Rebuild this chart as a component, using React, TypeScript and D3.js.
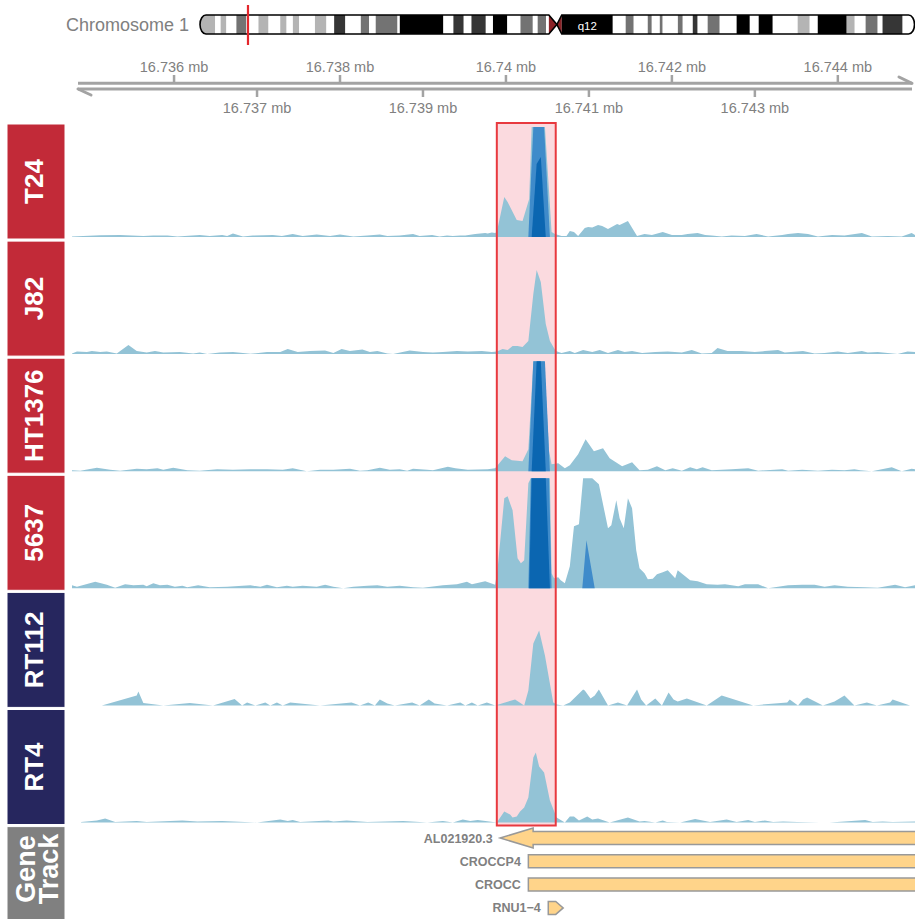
import React from 'react';
import * as d3 from 'd3';

const FONT = "'Liberation Sans', Arial, Helvetica, sans-serif";

// ---------- region / axis (kb on chr1) ----------
const REGION: [number, number] = [16734.77, 16744.93];
const HIGHLIGHT: [number, number] = [16739.89, 16740.6];
const TICKS_UPPER = [16736, 16738, 16740, 16742, 16744];
const TICKS_LOWER = [16737, 16739, 16741, 16743];

// ---------- ideogram (Mb on chr1) ----------
const CHROM_NAME = 'Chromosome 1';
const CHROM_LENGTH = 249.25;
const MARKER_MB = 16.74;
const CENTROMERE = [121.7, 124.5, 126.2];
const ARM_LABEL = { text: 'q12', mb: 135.1 };
const BANDS: [number, number, string][] = [
  [0, 5.3, 'gpos25'], [5.3, 7.2, 'gneg'], [7.2, 9.2, 'gpos25'], [9.2, 12.7, 'gneg'],
  [12.7, 16.2, 'gpos50'], [16.2, 20.4, 'gneg'], [20.4, 23.9, 'gpos25'], [23.9, 28, 'gneg'],
  [28, 30.2, 'gpos25'], [30.2, 32.4, 'gneg'], [32.4, 34.6, 'gpos25'], [34.6, 40.1, 'gneg'],
  [40.1, 44.1, 'gpos25'], [44.1, 46.8, 'gneg'], [46.8, 50.7, 'gpos75'], [50.7, 56.1, 'gneg'],
  [56.1, 59, 'gpos50'], [59, 61.3, 'gneg'], [61.3, 68.9, 'gpos50'], [68.9, 69.7, 'gneg'],
  [69.7, 84.9, 'gpos100'], [84.9, 88.4, 'gneg'], [88.4, 92, 'gpos75'], [92, 94.7, 'gneg'],
  [94.7, 99.7, 'gpos75'], [99.7, 102.2, 'gneg'], [102.2, 107.2, 'gpos100'], [107.2, 111.8, 'gneg'],
  [111.8, 116.1, 'gpos50'], [116.1, 117.8, 'gneg'], [117.8, 120.7, 'gpos50'], [120.7, 121.7, 'gneg'],
  [121.7, 124.5, 'acen'], [124.5, 126.2, 'acen'],
  [126.2, 144.0, 'gvar'], [144.0, 148.5, 'gneg'], [148.5, 151.3, 'gpos50'], [151.3, 156.2, 'gneg'],
  [156.2, 157.6, 'gpos50'], [157.6, 160.4, 'gneg'], [160.4, 161.4, 'gpos50'], [161.4, 166.7, 'gneg'],
  [166.7, 168.4, 'gpos50'], [168.4, 171.9, 'gneg'], [171.9, 173.6, 'gpos75'], [173.6, 177.1, 'gneg'],
  [177.1, 181.3, 'gpos50'], [181.3, 187.2, 'gneg'], [187.2, 191.8, 'gpos100'], [191.8, 194.9, 'gneg'],
  [194.9, 199.8, 'gpos100'], [199.8, 208.5, 'gneg'], [208.5, 212.7, 'gpos25'], [212.7, 215.5, 'gneg'],
  [215.5, 225.6, 'gpos100'], [225.6, 228.4, 'gpos25'], [228.4, 232.2, 'gneg'], [232.2, 236.4, 'gpos50'],
  [236.4, 238.1, 'gneg'], [238.1, 245.1, 'gpos75'], [245.1, 249.25, 'gneg'],
];

// ---------- coverage tracks: [position kb, signal] ----------
const TRACK_NAMES = ['T24', 'J82', 'HT1376', '5637', 'RT112', 'RT4'];
const TRACK_GROUPS = ['high', 'high', 'high', 'high', 'low', 'low'];
const Y_MAX = 110;

const T24_SIGNAL: [number, number][] = [[16734.77,0.5],[16735.11,1.7],[16735.35,2],[16735.63,1],[16735.75,1.5],[16735.92,1.5],[16736.04,0.5],[16736.31,2],[16736.43,1],[16736.58,2],[16736.64,1],[16736.71,3.5],[16736.83,0.5],[16736.95,1.5],[16737.19,2],[16737.30,1],[16737.43,3],[16737.55,1],[16737.72,2.5],[16737.88,1],[16738.00,2.5],[16738.16,0.5],[16738.33,1.5],[16738.48,2.5],[16738.57,1],[16738.72,1.5],[16738.88,3],[16738.96,1],[16739.11,2],[16739.20,0.5],[16739.29,1.5],[16739.36,1],[16739.45,1.5],[16739.51,1.5],[16739.63,3],[16739.75,4],[16739.78,3.5],[16739.83,4.5],[16739.87,4],[16739.89,5],[16739.98,40],[16740.02,35],[16740.13,17],[16740.20,16],[16740.28,38],[16740.31,110],[16740.47,110],[16740.52,45],[16740.55,5],[16740.59,3],[16740.67,1],[16740.73,1],[16740.77,6],[16740.82,5],[16740.87,1],[16740.95,9],[16740.99,10],[16741.04,9.5],[16741.11,12],[16741.16,11],[16741.23,8],[16741.34,13],[16741.37,12],[16741.47,16],[16741.58,1],[16741.67,3],[16741.76,2],[16741.89,5],[16742.00,2],[16742.12,2],[16742.19,3],[16742.31,4],[16742.40,2],[16742.48,1.5],[16742.60,0.5],[16742.72,1.5],[16742.88,1],[16743.02,3],[16743.16,0.5],[16743.33,2],[16743.40,3],[16743.52,4],[16743.64,3],[16743.76,0.5],[16743.93,2],[16744.08,1.5],[16744.29,4],[16744.41,0.5],[16744.60,1],[16744.77,0.5],[16744.89,4],[16744.93,2]];
const T24_REP2: [number, number][] = [[16740.27,0],[16740.33,110],[16740.46,110],[16740.53,0]];
const T24_REP3: [number, number][] = [[16740.31,0],[16740.37,73],[16740.42,80],[16740.48,0]];

const J82_SIGNAL: [number, number][] = [[16734.77,0.5],[16734.83,2.5],[16734.95,2],[16735.01,3],[16735.11,2],[16735.19,2.5],[16735.31,0.5],[16735.45,9],[16735.55,3],[16735.67,1.5],[16735.77,3],[16735.87,1.5],[16736.07,2],[16736.23,0.5],[16736.31,1.5],[16736.40,0],[16736.55,1.5],[16736.71,2],[16736.92,0.3],[16737.12,2],[16737.28,2],[16737.37,5],[16737.49,2],[16737.64,3],[16737.82,3.5],[16737.92,1],[16738.02,5],[16738.12,3],[16738.27,4.5],[16738.36,2],[16738.45,3],[16738.57,0.5],[16738.64,0],[16738.84,3.5],[16739.00,2],[16739.12,1.5],[16739.24,2],[16739.41,3],[16739.54,2.5],[16739.71,3],[16739.83,2],[16739.89,2.5],[16739.96,5],[16740.02,4],[16740.08,8],[16740.14,8],[16740.20,7],[16740.27,13],[16740.33,60],[16740.37,84],[16740.42,72],[16740.48,30],[16740.53,13],[16740.60,3],[16740.67,1],[16740.77,3],[16740.83,1],[16740.93,4],[16741.04,2],[16741.13,4],[16741.23,1],[16741.35,4],[16741.43,2],[16741.52,3],[16741.64,1],[16741.80,2],[16741.95,2.5],[16742.12,1.5],[16742.24,4],[16742.36,0.5],[16742.48,1],[16742.55,6],[16742.67,3],[16742.84,3],[16743.00,2],[16743.12,3],[16743.28,4],[16743.36,1.5],[16743.58,3],[16743.72,0.5],[16743.84,1],[16744.00,2.5],[16744.12,1],[16744.29,3],[16744.36,1.5],[16744.48,2],[16744.60,1],[16744.72,0],[16744.84,2.5],[16744.93,2]];

const HT1376_SIGNAL: [number, number][] = [[16734.77,1],[16734.87,0.5],[16735.07,3.5],[16735.23,1.5],[16735.35,0.5],[16735.55,2.5],[16735.67,2],[16735.80,3],[16735.87,1.5],[16735.99,3.5],[16736.16,1],[16736.31,0.5],[16736.52,2],[16736.71,1.5],[16736.92,2],[16737.12,2],[16737.31,1.5],[16737.43,3],[16737.60,0],[16737.76,1.5],[16737.92,1.5],[16738.12,2.5],[16738.24,0.5],[16738.33,1],[16738.48,3.5],[16738.60,1.5],[16738.72,2],[16738.81,0.5],[16738.88,2.5],[16739.05,1.5],[16739.12,1],[16739.30,4.5],[16739.39,3],[16739.54,1.5],[16739.78,2],[16739.87,3],[16739.99,15],[16740.07,11],[16740.20,10],[16740.27,22],[16740.33,110],[16740.46,110],[16740.52,20],[16740.55,7],[16740.63,8],[16740.71,3],[16740.77,6],[16740.87,17],[16740.96,32],[16741.06,20],[16741.17,23],[16741.25,13],[16741.40,5],[16741.52,9],[16741.61,1],[16741.71,1.5],[16741.82,5],[16741.92,1],[16742.01,3],[16742.12,0.5],[16742.22,4],[16742.30,2],[16742.37,4],[16742.48,1],[16742.72,2],[16742.92,3],[16743.04,0.5],[16743.33,2],[16743.40,0.5],[16743.57,1.5],[16743.76,0.5],[16743.93,1.5],[16744.08,1],[16744.20,2],[16744.27,1],[16744.41,0],[16744.53,2],[16744.65,4],[16744.77,0],[16744.89,2.5],[16744.93,2]];
const HT1376_REP2: [number, number][] = [[16740.27,0],[16740.33,110],[16740.47,110],[16740.53,0]];
const HT1376_REP3: [number, number][] = [[16740.31,0],[16740.37,110],[16740.42,110],[16740.48,0]];

const C5637_SIGNAL: [number, number][] = [[16734.77,3],[16734.83,1.5],[16735.05,6.5],[16735.19,3.5],[16735.29,0.5],[16735.41,4],[16735.51,3],[16735.63,3.5],[16735.67,2],[16735.75,5],[16735.83,3],[16735.92,3.5],[16736.01,1.5],[16736.10,2.5],[16736.16,1],[16736.29,3],[16736.43,1],[16736.64,1.5],[16736.92,3],[16737.04,1.5],[16737.12,3.5],[16737.24,1],[16737.36,2.5],[16737.43,1.5],[16737.55,2.5],[16737.72,1.5],[16737.82,3.5],[16737.92,1.5],[16738.04,0],[16738.16,1.5],[16738.33,2.5],[16738.45,3],[16738.57,1.5],[16738.72,2.5],[16738.88,1],[16739.00,0.5],[16739.24,3],[16739.41,4],[16739.53,6.5],[16739.59,4],[16739.75,7],[16739.87,3.5],[16739.90,20],[16739.98,90],[16740.02,92],[16740.08,78],[16740.14,30],[16740.18,25],[16740.22,28],[16740.27,105],[16740.30,110],[16740.53,110],[16740.55,15],[16740.58,10],[16740.63,11],[16740.66,8],[16740.71,5],[16740.77,22],[16740.82,62],[16740.88,64],[16740.93,110],[16741.04,110],[16741.12,104],[16741.23,60],[16741.27,63],[16741.33,88],[16741.37,70],[16741.42,60],[16741.47,90],[16741.52,80],[16741.57,38],[16741.61,20],[16741.67,15],[16741.71,9],[16741.77,9.5],[16741.82,14],[16741.89,16],[16741.95,18],[16742.04,10],[16742.07,18],[16742.13,14],[16742.22,8],[16742.31,7],[16742.42,4],[16742.55,3.5],[16742.64,4],[16742.80,2],[16742.88,4],[16743.04,4],[16743.16,0],[16743.24,1],[16743.40,3],[16743.57,3.5],[16743.72,3.5],[16743.84,1.5],[16743.96,3],[16744.12,1.5],[16744.33,1],[16744.48,0.5],[16744.69,3.5],[16744.81,1],[16744.93,3]];
const C5637_REP2: [number, number][] = [[16740.27,0],[16740.30,110],[16740.52,110],[16740.55,0],[16740.92,0],[16740.97,48],[16741.07,0]];
const C5637_REP3: [number, number][] = [[16740.28,0],[16740.31,110],[16740.48,110],[16740.53,0]];

const RT112_SIGNAL: [number, number][] = [[16735.13,0],[16735.55,10],[16735.57,14],[16735.63,2.5],[16735.87,0],[16736.19,2.5],[16736.47,0],[16736.73,6.5],[16736.82,0],[16736.88,3],[16736.98,0],[16737.10,3],[16737.16,0],[16737.24,3],[16737.31,0],[16737.40,3],[16737.76,0],[16738.14,3],[16738.24,0],[16738.34,3],[16738.42,0],[16738.48,6],[16738.57,2],[16738.66,0],[16738.87,3],[16738.96,0],[16739.07,6],[16739.14,2],[16739.29,0],[16739.45,3],[16739.51,0],[16739.59,3],[16739.66,0],[16739.77,3],[16739.87,0],[16740.11,6],[16740.22,0],[16740.27,15],[16740.33,62],[16740.40,75],[16740.47,50],[16740.57,3],[16740.61,1],[16740.69,0],[16740.77,3],[16740.93,16],[16740.95,15],[16741.02,7],[16741.07,10],[16741.12,16],[16741.23,0],[16741.35,3],[16741.46,0],[16741.58,16],[16741.63,6],[16741.69,0],[16741.80,7],[16741.88,0],[16741.96,13],[16742.02,6],[16742.07,4],[16742.18,7],[16742.42,0],[16742.60,10],[16742.98,0],[16743.39,3],[16743.42,6],[16743.52,0],[16743.58,6],[16743.63,8],[16743.82,0],[16743.96,4],[16744.08,10],[16744.20,0],[16744.35,3],[16744.47,0],[16744.63,3],[16744.66,6],[16744.87,0],[16744.93,0]];

const RT4_SIGNAL: [number, number][] = [[16734.88,0.5],[16735.07,2],[16735.17,4],[16735.29,0.5],[16735.55,1.5],[16735.67,0.5],[16736.10,2],[16736.28,1],[16736.58,1.5],[16737.00,0],[16737.28,3],[16737.37,1.5],[16737.43,2.5],[16737.52,0.5],[16737.86,2],[16737.92,1],[16738.08,2],[16738.33,0.5],[16738.76,1.5],[16738.96,0.5],[16739.05,0],[16739.24,1.5],[16739.36,0],[16739.48,3],[16739.57,1.5],[16739.66,2.5],[16739.89,0],[16739.98,11],[16740.05,8],[16740.08,5],[16740.13,6],[16740.17,11],[16740.22,15],[16740.27,25],[16740.33,65],[16740.36,70],[16740.40,56],[16740.46,50],[16740.53,22],[16740.61,5],[16740.71,0],[16740.77,6],[16740.82,6],[16740.88,2],[16740.98,6],[16741.04,3],[16741.11,4],[16741.25,0],[16741.47,5],[16741.61,1],[16741.67,1.5],[16741.80,0],[16741.89,2],[16741.94,0.5],[16742.10,0],[16742.28,3.5],[16742.46,0.5],[16742.66,3],[16742.78,0.5],[16742.92,2.5],[16743.00,0.5],[16743.12,2],[16743.22,0.5],[16743.34,1],[16743.51,0.5],[16743.78,0],[16743.90,0],[16744.08,1],[16744.33,2.5],[16744.42,0.5],[16744.54,1],[16744.66,0.5],[16744.93,1]];

const TRACK_SIGNALS = [T24_SIGNAL, J82_SIGNAL, HT1376_SIGNAL, C5637_SIGNAL, RT112_SIGNAL, RT4_SIGNAL];
const TRACK_REP2 = [T24_REP2, null, HT1376_REP2, C5637_REP2, null, null];
const TRACK_REP3 = [T24_REP3, null, HT1376_REP3, C5637_REP3, null, null];

// ---------- genes (kb) ----------
const GENE_NAMES = ['AL021920.3', 'CROCCP4', 'CROCC', 'RNU1\u22124'];
const GENE_STARTS = [16739.93, 16740.27, 16740.27, 16740.51];
const GENE_ENDS = [16775.0, 16790.0, 16790.0, 16740.69];
const GENE_STRANDS = ['-', '+', '+', '+'];

// ---------- styles ----------
const COL = {
  light: '#93c3d6',
  mid: '#3f8bca',
  dark: '#0b66b1',
  high: '#c22a38',
  low: '#26265e',
  gene: '#808080',
  axis: '#a3a3a3',
  text: '#808080',
  hlFill: '#fbdadf',
  hlStroke: '#e8393f',
  geneFill: '#ffd48a',
  geneStroke: '#999999',
};
const STAIN: Record<string, string> = {
  gneg: '#ffffff', gpos25: '#b4b4b4', gpos50: '#737373', gpos75: '#363636',
  gpos100: '#000000', gvar: '#000000', acen: '#8b2126',
};

const X0 = 72, X1 = 915;
const TRACK_TOP = 124, STRIDE = 117.1, PANEL_H = 115, BASE_OFF = 113;
const PANEL_X = 7, PANEL_W = 58;

export default function App() {
  const x = d3.scaleLinear().domain(REGION).range([X0, X1]);
  const cx = d3.scaleLinear().domain([0, CHROM_LENGTH]).range([200, 914.5]);
  const fmt = (kb: number) => `${+(kb / 1000).toFixed(3)} mb`;

  // ideogram geometry
  const yT = 15, yB = 34, yM = 24.5, r = 6;
  const xs = cx(0), xe = cx(CHROM_LENGTH);
  const cL = cx(CENTROMERE[0]), cM = cx(CENTROMERE[1]), cR = cx(CENTROMERE[2]);
  const pPath = `M${xs + r},${yT} L${cL},${yT} L${cM},${yM} L${cL},${yB} L${xs + r},${yB} A${r},${(yB - yT) / 2} 0 0 1 ${xs + r},${yT} Z`;
  const qPath = `M${cM},${yM} L${cR},${yT} L${xe - r},${yT} A${r},${(yB - yT) / 2} 0 0 1 ${xe - r},${yB} L${cR},${yB} Z`;

  const hx0 = x(HIGHLIGHT[0]), hx1 = x(HIGHLIGHT[1]);
  const geneTop = TRACK_TOP + 6 * STRIDE;

  const tracks = TRACK_NAMES.map((name, i) => {
    const top = TRACK_TOP + i * STRIDE;
    const base = top + BASE_OFF;
    const y = d3.scaleLinear().domain([0, Y_MAX]).range([base, base - 110]).clamp(true);
    const area = d3.area<[number, number]>().x(d => x(d[0])).y0(base).y1(d => y(d[1]));
    return { name, top, base, area, i };
  });

  return (
    <svg width={915} height={919} style={{ position: 'absolute', left: 0, top: 0, display: 'block', background: '#fff' }}
      fontFamily={FONT}>
      <defs>
        <clipPath id="chromClip">
          <path d={pPath} />
          <path d={qPath} />
        </clipPath>
        <clipPath id="dataClip">
          <rect x={X0} y={0} width={X1 - X0} height={919} />
        </clipPath>
      </defs>

      {/* Ideogram */}
      <text x={189} y={30.5} fontSize={18} fill={COL.text} textAnchor="end">{CHROM_NAME}</text>
      <g clipPath="url(#chromClip)">
        {BANDS.map((b, i) => (
          <rect key={i} x={cx(b[0])} y={yT} width={Math.max(0, cx(b[1]) - cx(b[0]))} height={yB - yT} fill={STAIN[b[2]]} />
        ))}
      </g>
      <path d={pPath} fill="none" stroke="#000" strokeWidth={1.6} />
      <path d={qPath} fill="none" stroke="#000" strokeWidth={1.6} />
      <text x={cx(ARM_LABEL.mb)} y={29.5} fontSize={11.5} fill="#fff" textAnchor="middle">{ARM_LABEL.text}</text>
      <line x1={cx(MARKER_MB)} x2={cx(MARKER_MB)} y1={5} y2={45} stroke="#e4262c" strokeWidth={2.2} />

      {/* Genome axis */}
      <line x1={78} x2={912} y1={83.3} y2={83.3} stroke={COL.axis} strokeWidth={3} />
      <line x1={78} x2={912} y1={89} y2={89} stroke={COL.axis} strokeWidth={3} />
      <line x1={899} y1={77} x2={912} y2={83.3} stroke={COL.axis} strokeWidth={3} strokeLinecap="round" />
      <line x1={78} y1={89} x2={91} y2={95} stroke={COL.axis} strokeWidth={3} strokeLinecap="round" />
      {TICKS_UPPER.map(t => (
        <g key={t}>
          <line x1={x(t)} x2={x(t)} y1={75} y2={83} stroke={COL.axis} strokeWidth={2.5} />
          <text x={x(t)} y={71.5} fontSize={14.5} fill={COL.text} textAnchor="middle">{fmt(t)}</text>
        </g>
      ))}
      {TICKS_LOWER.map(t => (
        <g key={t}>
          <line x1={x(t)} x2={x(t)} y1={89} y2={97} stroke={COL.axis} strokeWidth={2.5} />
          <text x={x(t)} y={112.5} fontSize={14.5} fill={COL.text} textAnchor="middle">{fmt(t)}</text>
        </g>
      ))}

      {/* highlight fill */}
      <rect x={hx0} y={123} width={hx1 - hx0} height={825.5 - 123} fill={COL.hlFill} />

      {/* data tracks */}
      {tracks.map(t => (
        <g key={t.name}>
          <rect x={PANEL_X} y={t.top} width={PANEL_W} height={PANEL_H}
            fill={TRACK_GROUPS[t.i] === 'high' ? COL.high : COL.low} stroke="#fff" strokeWidth={1} />
          <text transform={`translate(43,${t.top + PANEL_H / 2}) rotate(-90)`} fontSize={26} fontWeight="bold"
            fill="#fff" textAnchor="middle">{t.name}</text>
          <g clipPath="url(#dataClip)">
            <path d={t.area(TRACK_SIGNALS[t.i]) || ''} fill={COL.light} />
            {TRACK_REP2[t.i] && <path d={t.area(TRACK_REP2[t.i] as [number, number][]) || ''} fill={COL.mid} />}
            {TRACK_REP3[t.i] && <path d={t.area(TRACK_REP3[t.i] as [number, number][]) || ''} fill={COL.dark} />}
          </g>
        </g>
      ))}

      {/* highlight border */}
      <rect x={hx0} y={123} width={hx1 - hx0} height={825.5 - 123} fill="none" stroke={COL.hlStroke} strokeWidth={2} />

      {/* gene track */}
      <rect x={PANEL_X} y={geneTop} width={PANEL_W} height={930 - geneTop} fill={COL.gene} stroke="#fff" strokeWidth={1} />
      <text transform={`translate(35,869) rotate(-90)`} fontSize={27} fontWeight="bold" fill="#fff" textAnchor="middle">Gene</text>
      <text transform={`translate(58,869) rotate(-90)`} fontSize={27} fontWeight="bold" fill="#fff" textAnchor="middle">Track</text>
      <g>
        {GENE_NAMES.map((name, i) => {
          const cy = geneTop + 11.4 + i * 23.3;
          const gx0 = x(GENE_STARTS[i]);
          const gx1Raw = x(GENE_ENDS[i]);
          const visibleEnd = gx1Raw <= X1;
          const gx1 = Math.min(gx1Raw, X1 + 10);
          const bh = 6.5;
          const hl = Math.min(33, (gx1 - gx0) / 2);
          const hh = hl >= 20 ? 10 : bh;
          let pts: [number, number][];
          if (GENE_STRANDS[i] === '-') {
            pts = [[gx0, cy], [gx0 + hl, cy - hh], [gx0 + hl, cy - bh], [gx1, cy - bh], [gx1, cy + bh], [gx0 + hl, cy + bh], [gx0 + hl, cy + hh]];
          } else if (visibleEnd) {
            pts = [[gx0, cy - bh], [gx1 - hl, cy - bh], [gx1, cy], [gx1 - hl, cy + bh], [gx0, cy + bh]];
          } else {
            pts = [[gx0, cy - bh], [gx1, cy - bh], [gx1, cy + bh], [gx0, cy + bh]];
          }
          return (
            <g key={name}>
              <polygon points={pts.map(p => p.join(',')).join(' ')} fill={COL.geneFill} stroke={COL.geneStroke} strokeWidth={1.5} />
              <text x={gx0 - 7.5} y={cy + 4.5} fontSize={12.5} fontWeight="bold" fill={COL.text} textAnchor="end">{name}</text>
            </g>
          );
        })}
      </g>
    </svg>
  );
}
